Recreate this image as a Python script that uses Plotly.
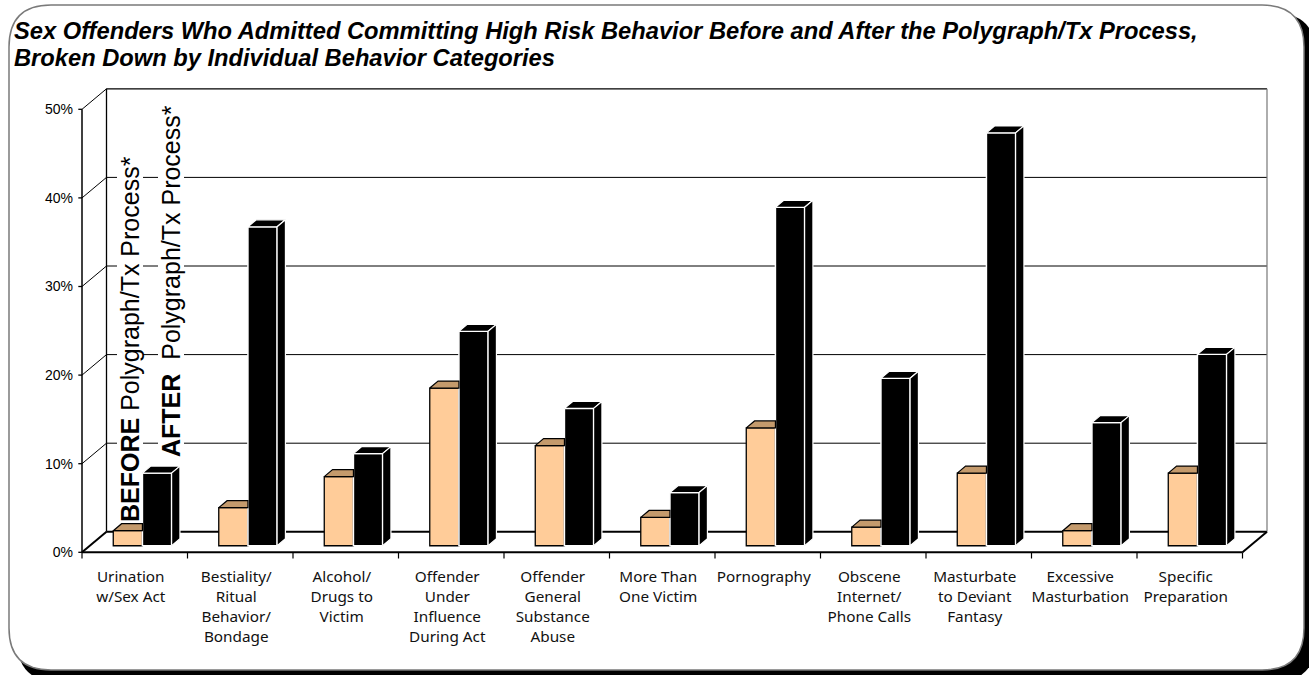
import plotly.graph_objects as go

# categories and values (% of offenders)
categories = [
    "Urination<br>w/Sex Act",
    "Bestiality/<br>Ritual<br>Behavior/<br>Bondage",
    "Alcohol/<br>Drugs to<br>Victim",
    "Offender<br>Under<br>Influence<br>During Act",
    "Offender<br>General<br>Substance<br>Abuse",
    "More Than<br>One Victim",
    "Pornography",
    "Obscene<br>Internet/<br>Phone Calls",
    "Masturbate<br>to Deviant<br>Fantasy",
    "Excessive<br>Masturbation",
    "Specific<br>Preparation",
]
before = [1.7, 4.3, 7.8, 17.8, 11.3, 3.2, 13.3, 2.1, 8.2, 1.7, 8.2]
after = [8.2, 36.0, 10.4, 24.2, 15.5, 6.0, 38.2, 18.9, 46.6, 13.9, 21.6]
y_tickvals = [0, 10, 20, 30, 40, 50]
y_ticktext = ["0%", "10%", "20%", "30%", "40%", "50%"]

# the page margin is removed in post_script, so figure pixels = window pixels
W, H = 1309, 675
n = len(categories)

# pixel geometry of the 3d box
X0, Y0 = 82, 552.3          # front-left floor corner
CAT_PX, PCT_PX = 105.5, 8.86
DEPTH_X = 24.5 / CAT_PX
DEPTH_Y = 20.5 / PCT_PX
P_L, P_R, P_T, P_B = 78, 1271, 85, 562   # plot area
ML, MR, MT, MB = P_L, W - P_R, P_T, H - P_B
x_lo = (P_L - X0) / CAT_PX
x_hi = (P_R - X0) / CAT_PX
y_lo = (Y0 - P_B) / PCT_PX
y_hi = (Y0 - P_T) / PCT_PX

# bars sit a bit back inside the box
F0, FD = 0.32, 0.34
BAR_W, BAR_L = 0.2765, 0.222
sx, sy = F0 * DEPTH_X, F0 * DEPTH_Y
ddx, ddy = FD * DEPTH_X, FD * DEPTH_Y

PEACH = "#FFCC99"
TAN = "#C49A6C"


def px(xp):
    return (xp - P_L) / (P_R - P_L)


def py(yp):
    return (P_B - yp) / (P_B - P_T)


fig = go.Figure()

left = [i + BAR_L + sx for i in range(n)]
fig.add_trace(go.Bar(
    x=[l + BAR_W / 2 for l in left], y=before, base=sy, width=BAR_W,
    marker=dict(color=PEACH, line=dict(color="black", width=1.3)),
    hoverinfo="skip", showlegend=False,
))
fig.add_trace(go.Bar(
    x=[l + BAR_W * 1.5 for l in left], y=after, base=sy, width=BAR_W,
    marker=dict(color="black", line=dict(color="white", width=1.5)),
    hoverinfo="skip", showlegend=False,
))

# top / side faces
bt_x, bt_y, at_x, at_y, as_x, as_y = [], [], [], [], [], []
for i in range(n):
    x0, x1, x2 = left[i], left[i] + BAR_W, left[i] + 2 * BAR_W
    tb = sy + before[i]
    ta = sy + after[i]
    if after[i] >= before[i]:
        bt_x += [x0, x1, x1, x0 + ddx, x0, None]
    else:
        bt_x += [x0, x1, x1 + ddx, x0 + ddx, x0, None]
    bt_y += [tb, tb, tb + ddy, tb + ddy, tb, None]
    at_x += [x1, x2, x2 + ddx, x1 + ddx, x1, None]
    at_y += [ta, ta, ta + ddy, ta + ddy, ta, None]
    as_x += [x2, x2, x2 + ddx, x2 + ddx, x2, None]
    as_y += [sy, ta, ta + ddy, sy + ddy, sy, None]

fig.add_trace(go.Scatter(x=bt_x, y=bt_y, mode="lines", fill="toself", fillcolor=TAN,
                         line=dict(color="black", width=1.2), hoverinfo="skip", showlegend=False))
fig.add_trace(go.Scatter(x=at_x, y=at_y, mode="lines", fill="toself", fillcolor="black",
                         line=dict(color="white", width=1.2), hoverinfo="skip", showlegend=False))
fig.add_trace(go.Scatter(x=as_x, y=as_y, mode="lines", fill="toself", fillcolor="black",
                         line=dict(color="white", width=1.2), hoverinfo="skip", showlegend=False))

shapes = []


def seg(xa, ya, xb, yb, w=1, c="black"):
    shapes.append(dict(type="line", xref="x", yref="y", x0=xa, y0=ya, x1=xb, y1=yb,
                       line=dict(color=c, width=w), layer="below"))


# frame with shadow (paper coords from pixels)
def rr_path(x0, y0, x1, y1, r):
    pts = [
        ("M", x0 + r, y0), ("L", x1 - r, y0), ("Q", x1, y0, x1, y0 + r),
        ("L", x1, y1 - r), ("Q", x1, y1, x1 - r, y1), ("L", x0 + r, y1),
        ("Q", x0, y1, x0, y1 - r), ("L", x0, y0 + r), ("Q", x0, y0, x0 + r, y0),
    ]
    out = ""
    for p in pts:
        cmd, vals = p[0], p[1:]
        coords = []
        for k in range(0, len(vals), 2):
            coords.append(f"{px(vals[k]):.5f},{py(vals[k + 1]):.5f}")
        out += cmd + " ".join(coords) + " "
    return out + "Z"


shapes.append(dict(type="path", xref="paper", yref="paper", layer="below",
                   path=rr_path(17, 13, 1316, 682, 42), fillcolor="black", line=dict(width=0)))
shapes.append(dict(type="path", xref="paper", yref="paper", layer="below",
                   path=rr_path(9, 5, 1304, 670, 42), fillcolor="white",
                   line=dict(color="#7a7a7a", width=1.5)))

# back wall gridlines and left wall diagonals
for v in y_tickvals:
    if 0 < v < 50:
        seg(DEPTH_X, v + DEPTH_Y, n + DEPTH_X, v + DEPTH_Y, 1)
    seg(0, v, DEPTH_X, v + DEPTH_Y, 2 if v == 0 else 1)
    seg(-0.035, v, 0, v, 1.3)
seg(DEPTH_X, DEPTH_Y, n + DEPTH_X, DEPTH_Y, 2)
seg(DEPTH_X, DEPTH_Y, DEPTH_X, 50 + DEPTH_Y, 1.3)
seg(DEPTH_X, 50 + DEPTH_Y, n + DEPTH_X, 50 + DEPTH_Y, 1.3)
seg(n + DEPTH_X, DEPTH_Y, n + DEPTH_X, 50 + DEPTH_Y, 1.2, "#777777")
seg(n, 0, n + DEPTH_X, DEPTH_Y, 2)
seg(0, 0, n, 0, 2)
seg(0, 0, 0, 50, 1.5)
for i in range(n + 1):
    seg(i, 0, i, -0.7, 1.2)

# white boxes behind the vertical legend text
for (xa, xb, ya, yb) in [(117, 143, 152, 524), (158, 184, 108, 452)]:
    shapes.append(dict(type="rect", xref="x", yref="y", layer="below",
                       x0=(xa - X0) / CAT_PX, x1=(xb - X0) / CAT_PX,
                       y0=(Y0 - yb) / PCT_PX, y1=(Y0 - ya) / PCT_PX,
                       fillcolor="white", line=dict(width=0)))

legend_font = dict(family="Liberation Sans", size=25, color="black")
title_font = dict(family="Liberation Sans", size=23.7, color="black")
annotations = [
    dict(text="<b>BEFORE</b> Polygraph/Tx Process*", textangle=-90, xref="paper", yref="paper",
         x=px(130), y=py(339), xanchor="center", yanchor="middle", showarrow=False, font=legend_font),
    dict(text="<b>AFTER</b>  Polygraph/Tx Process*", textangle=-90, xref="paper", yref="paper",
         x=px(171), y=py(281), xanchor="center", yanchor="middle", showarrow=False, font=legend_font),
    dict(text="<b><i>Sex Offenders Who Admitted Committing High Risk Behavior Before and After the Polygraph/Tx Process,</i></b>",
         xref="paper", yref="paper", x=px(12), y=py(31), xanchor="left", yanchor="middle",
         showarrow=False, font=title_font),
    dict(text="<b><i>Broken Down by Individual Behavior Categories</i></b>",
         xref="paper", yref="paper", x=px(12), y=py(58), xanchor="left", yanchor="middle",
         showarrow=False, font=title_font),
]

fig.update_layout(
    width=W, height=H,
    margin=dict(l=ML, r=MR, t=MT, b=MB),
    paper_bgcolor="white", plot_bgcolor="rgba(0,0,0,0)",
    barmode="overlay",
    shapes=shapes, annotations=annotations,
    xaxis=dict(range=[x_lo, x_hi], showgrid=False, zeroline=False, showline=False,
               tickvals=[i + 0.462 for i in range(n)], ticktext=categories, ticks="",
               ticklabelstandoff=4,
               tickfont=dict(family="Noto Sans", size=15.3, color="#111111"), tickangle=0),
    yaxis=dict(range=[y_lo, y_hi], showgrid=False, zeroline=False, showline=False,
               tickvals=y_tickvals, ticktext=y_ticktext, ticks="", ticklabelstandoff=4,
               tickfont=dict(family="Liberation Sans", size=14, color="black")),
)

fig.write_html("out.html", config={"displayModeBar": False},
               post_script="document.body.style.margin='0';document.body.style.overflow='hidden';")
